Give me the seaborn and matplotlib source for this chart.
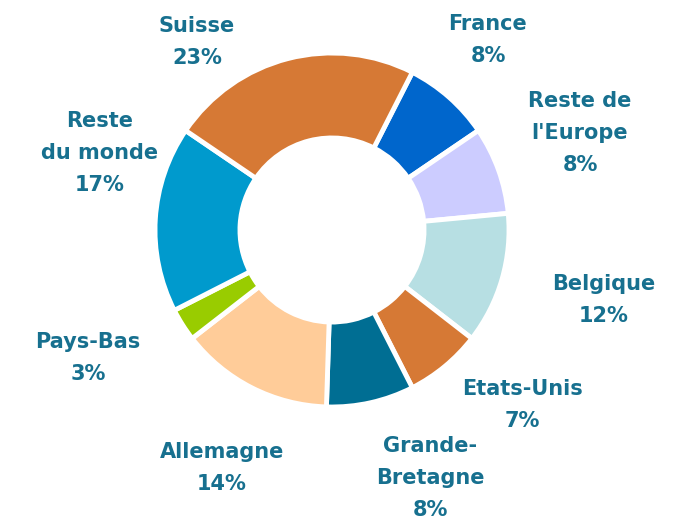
import seaborn as sns
import matplotlib.pyplot as plt

# Data (clockwise from France)
pays = ['France', "Reste de\nl'Europe", 'Belgique', 'Etats-Unis', 'Grande-\nBretagne',
        'Allemagne', 'Pays-Bas', 'Reste\ndu monde', 'Suisse']
parts = [8, 8, 12, 7, 8, 14, 3, 17, 23]
couleurs = ['#0066CC', '#CCCCFF', '#B7DFE3', '#D67935', '#006E93',
            '#FFCC99', '#99CC00', '#009ACD', '#D67935']

# label centres in pixels (x from left, y from top)
label_px = [(488, 40), (580, 133), (604, 300), (522, 405), (430, 478),
            (222, 468), (88, 358), (100, 153), (197, 42)]

sns.set_theme(style="white")
plt.rcParams['font.family'] = ['DejaVu Sans']

W, H = 673, 530
cx, cy, R = 332, 230, 177

fig = plt.figure(figsize=(W / 100, H / 100), dpi=100)
ax = fig.add_axes([0, 0, 1, 1])
ax.pie(parts, colors=couleurs, startangle=63, counterclock=False,
       radius=1, wedgeprops=dict(width=0.48, edgecolor='white', linewidth=3.5))
ax.set_xlim(-cx / R, (W - cx) / R)
ax.set_ylim(-(H - cy) / R, cy / R)
ax.set_aspect('equal')
ax.axis('off')

for nom, p, (px, py) in zip(pays, parts, label_px):
    ax.text((px - cx) / R, (cy - py) / R, f"{nom}\n{p}%", ha='center', va='center',
            fontsize=15, fontweight='bold', color='#17708F', linespacing=1.75)

fig.savefig('out.png', dpi=100)
